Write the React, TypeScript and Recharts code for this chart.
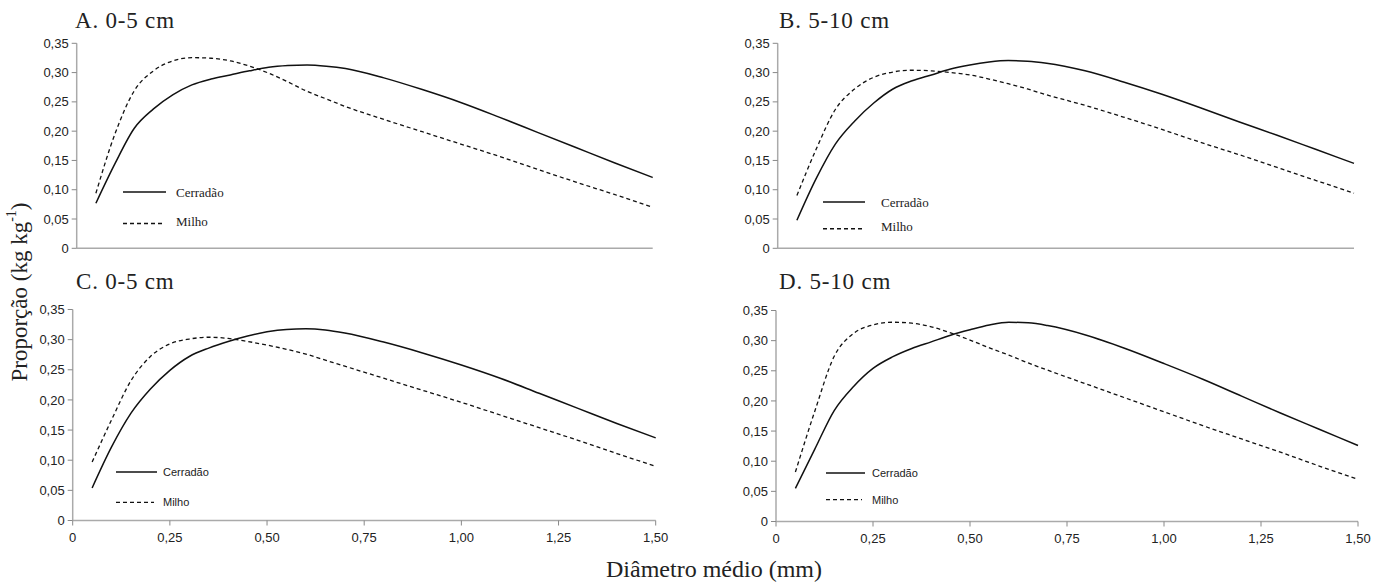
import React from 'react';
import { LineChart, Line, XAxis, YAxis, Legend } from 'recharts';

// diâmetro médio das classes (mm)
const diametro = [0.05, 0.1, 0.15, 0.2, 0.25, 0.3, 0.35, 0.4, 0.45, 0.5, 0.55, 0.6, 0.65, 0.7, 0.8, 0.9, 1.0, 1.1, 1.2, 1.3, 1.4, 1.5];

// A. 0-5 cm
const cerradaoA = [0.077, 0.145, 0.205, 0.238, 0.262, 0.279, 0.289, 0.296, 0.303, 0.309, 0.312, 0.313, 0.311, 0.307, 0.291, 0.271, 0.249, 0.224, 0.198, 0.172, 0.146, 0.121];
const milhoA = [0.094, 0.196, 0.269, 0.303, 0.32, 0.3255, 0.3245, 0.32, 0.311, 0.299, 0.284, 0.268, 0.255, 0.242, 0.22, 0.199, 0.178, 0.157, 0.135, 0.113, 0.092, 0.07];

// B. 5-10 cm
const cerradaoB = [0.048, 0.119, 0.178, 0.217, 0.248, 0.272, 0.286, 0.296, 0.306, 0.313, 0.318, 0.3205, 0.3195, 0.316, 0.303, 0.284, 0.263, 0.24, 0.216, 0.193, 0.169, 0.145];
const milhoB = [0.09, 0.169, 0.237, 0.272, 0.292, 0.301, 0.304, 0.303, 0.3, 0.296, 0.289, 0.281, 0.272, 0.262, 0.244, 0.224, 0.203, 0.181, 0.16, 0.138, 0.116, 0.094];

// C. 0-5 cm
const cerradaoC = [0.054, 0.122, 0.178, 0.218, 0.249, 0.272, 0.286, 0.297, 0.306, 0.313, 0.317, 0.318, 0.316, 0.311, 0.296, 0.278, 0.258, 0.236, 0.211, 0.186, 0.161, 0.137];
const milhoC = [0.097, 0.167, 0.232, 0.272, 0.293, 0.301, 0.304, 0.302, 0.297, 0.291, 0.284, 0.276, 0.266, 0.256, 0.236, 0.216, 0.196, 0.175, 0.154, 0.133, 0.111, 0.09];

// D. 5-10 cm
const cerradaoD = [0.055, 0.12, 0.184, 0.224, 0.254, 0.273, 0.287, 0.298, 0.309, 0.318, 0.326, 0.3305, 0.3295, 0.325, 0.309, 0.287, 0.262, 0.236, 0.208, 0.18, 0.153, 0.126];
const milhoD = [0.082, 0.183, 0.274, 0.312, 0.326, 0.3305, 0.329, 0.323, 0.313, 0.301, 0.288, 0.276, 0.263, 0.251, 0.228, 0.205, 0.182, 0.159, 0.137, 0.115, 0.092, 0.07];

const xTicks = [0, 0.25, 0.5, 0.75, 1.0, 1.25, 1.5];
const yTicks = [0, 0.05, 0.1, 0.15, 0.2, 0.25, 0.3, 0.35];

const fmt = (v: number) => (v === 0 ? '0' : v.toFixed(2).replace('.', ','));

const serif = '"Liberation Serif", "Times New Roman", serif';
const sans = '"Liberation Sans", Arial, sans-serif';
const tickStyle = { fill: '#222', fontSize: 13, fontFamily: sans };

type LegendCfg = { left: number; top: number; dy: number; len: number; gap: number; font: string; size: number };

type Panel = {
  key: string;
  title: string;
  cerradao: number[];
  milho: number[];
  left: number;
  top: number;
  width: number;
  height: number;
  margin: { top: number; right: number; bottom: number; left: number };
  showX: boolean;
  legend: LegendCfg;
};

const panels: Panel[] = [
  {
    key: 'A', title: 'A. 0-5 cm', cerradao: cerradaoA, milho: milhoA,
    left: 0, top: 0, width: 680, height: 262,
    margin: { top: 43.3, right: 27.3, bottom: 7.7, left: 26.7 }, showX: false,
    legend: { left: 122.7, top: 180, dy: 31.5, len: 43, gap: 10, font: serif, size: 13 },
  },
  {
    key: 'B', title: 'B. 5-10 cm', cerradao: cerradaoB, milho: milhoB,
    left: 680, top: 0, width: 700, height: 262,
    margin: { top: 43.3, right: 26, bottom: 7.7, left: 47.7 }, showX: false,
    legend: { left: 142.7, top: 189.5, dy: 26.8, len: 42, gap: 16, font: serif, size: 13 },
  },
  {
    key: 'C', title: 'C. 0-5 cm', cerradao: cerradaoC, milho: milhoC,
    left: 0, top: 262, width: 680, height: 320,
    margin: { top: 47.5, right: 24.3, bottom: 31.5, left: 22.7 }, showX: true,
    legend: { left: 116, top: 198, dy: 30.4, len: 41, gap: 6, font: sans, size: 11 },
  },
  {
    key: 'D', title: 'D. 5-10 cm', cerradao: cerradaoD, milho: milhoD,
    left: 680, top: 262, width: 700, height: 320,
    margin: { top: 48.5, right: 22, bottom: 30.5, left: 46 }, showX: true,
    legend: { left: 146, top: 198.5, dy: 26.6, len: 39, gap: 7, font: sans, size: 11 },
  },
];

function makeLegend(cfg: LegendCfg) {
  return (props: any) => {
    const items = props.payload || [];
    return (
      <svg width={140} height={24 + cfg.dy * items.length} style={{ display: 'block' }}>
        {items.map((entry: any, i: number) => {
          const y = 12 + i * cfg.dy;
          const dashed = entry.dataKey === 'milho';
          return (
            <g key={`leg-${entry.dataKey}`}>
              <line
                x1={0}
                x2={dashed ? cfg.len - 3 : cfg.len}
                y1={y}
                y2={y}
                stroke="#111"
                strokeWidth={1.4}
                strokeDasharray={dashed ? '4 3' : undefined}
              />
              <text
                x={cfg.len + cfg.gap}
                y={y - (dashed && cfg.font === serif ? 2 : 0)}
                dominantBaseline="central"
                fontFamily={cfg.font}
                fontSize={cfg.size}
                fill="#222"
              >
                {entry.value}
              </text>
            </g>
          );
        })}
      </svg>
    );
  };
}

function Painel({ p }: { p: Panel }) {
  const data = diametro.map((d, i) => ({ d, cerradao: p.cerradao[i], milho: p.milho[i] }));
  return (
    <div style={{ position: 'absolute', left: p.left, top: p.top }}>
      <LineChart width={p.width} height={p.height} data={data} margin={p.margin}>
        <XAxis
          dataKey="d"
          type="number"
          domain={[0, 1.5]}
          ticks={xTicks}
          tickFormatter={fmt}
          tick={p.showX ? tickStyle : false}
          height={p.showX ? 30 : 6}
          tickSize={5}
          tickMargin={7}
          axisLine={{ stroke: '#aaa', strokeWidth: 1.5 }}
          tickLine={{ stroke: '#888' }}
        />
        <YAxis
          type="number"
          domain={[0, 0.35]}
          ticks={yTicks}
          tickFormatter={fmt}
          width={50}
          tick={tickStyle}
          tickSize={5}
          tickMargin={3}
          axisLine={{ stroke: '#aaa', strokeWidth: 1.5 }}
          tickLine={{ stroke: '#888' }}
        />
        <Legend
          layout="horizontal"
          verticalAlign="middle"
          align="center"
          content={makeLegend(p.legend)}
          wrapperStyle={{ left: p.legend.left, top: p.legend.top, width: 'auto', height: 'auto' }}
        />
        <Line
          type="monotone"
          dataKey="cerradao"
          name="Cerradão"
          stroke="#111"
          strokeWidth={1.5}
          dot={false}
          isAnimationActive={false}
        />
        <Line
          type="monotone"
          dataKey="milho"
          name="Milho"
          stroke="#111"
          strokeWidth={1.3}
          strokeDasharray="4 3"
          dot={false}
          isAnimationActive={false}
        />
      </LineChart>
    </div>
  );
}

const titlePos: Record<string, { x: number; y: number }> = {
  A: { x: 75, y: 27.5 },
  B: { x: 779, y: 27.5 },
  C: { x: 76, y: 288.5 },
  D: { x: 779, y: 288.5 },
};

export default function App() {
  return (
    <div style={{ position: 'absolute', left: 0, top: 0, width: 1383, height: 582, background: '#fff', overflow: 'hidden' }}>
      {panels.map((p) => (
        <Painel key={p.key} p={p} />
      ))}
      <svg width={1383} height={582} style={{ position: 'absolute', left: 0, top: 0, pointerEvents: 'none' }}>
        {panels.map((p) => (
          <text key={`t-${p.key}`} x={titlePos[p.key].x} y={titlePos[p.key].y} fontFamily={serif} fontSize={23} letterSpacing={0.8} fill="#222">
            {p.title}
          </text>
        ))}
        <text transform="translate(19,292) rotate(-90)" textAnchor="middle" dominantBaseline="central" fontFamily={serif} fontSize={23} fill="#222">
          Proporção (kg kg<tspan fontSize={14} dy={-8}>-1</tspan><tspan dy={8}>)</tspan>
        </text>
        <text x={714} y={576.5} textAnchor="middle" fontFamily={serif} fontSize={24} fill="#222">
          Diâmetro médio (mm)
        </text>
      </svg>
    </div>
  );
}
